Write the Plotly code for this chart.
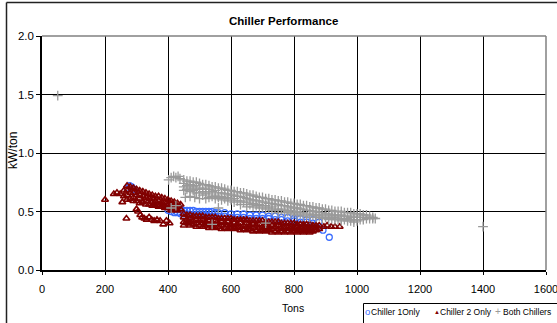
import plotly.graph_objects as go

# ---------------- data ----------------
# Chiller 1 Only (blue open circles): x columns and the y values seen in each column
c1_tons_cols = [270, 278, 285, 290, 296, 400, 410, 420, 430, 440, 450, 460, 470, 480, 490, 500, 510, 520,
                530, 540, 550, 560, 580, 600, 620, 640, 660, 680, 700, 720, 740, 760, 780, 800,
                820, 840, 860, 880, 892, 912]
c1_kw_cols = [[0.70], [0.72], [0.71], [0.69], [0.67], [0.54, 0.51], [0.53, 0.50], [0.53, 0.49], [0.52, 0.49],
              [0.52, 0.48], [0.51, 0.48], [0.51, 0.48], [0.51, 0.47], [0.51, 0.47], [0.50, 0.47], [0.50, 0.47],
              [0.50, 0.47], [0.50, 0.47], [0.50, 0.46], [0.50, 0.46], [0.49, 0.46], [0.49, 0.46], [0.49, 0.46],
              [0.48, 0.45], [0.48, 0.45], [0.48, 0.45], [0.47, 0.44], [0.47, 0.44], [0.47, 0.44], [0.46, 0.44],
              [0.46, 0.43], [0.45, 0.43], [0.45, 0.42], [0.44, 0.42], [0.44, 0.41], [0.43, 0.41], [0.43, 0.40],
              [0.41], [0.34], [0.28]]

# Chiller 2 Only (dark red triangles)
c2_tons_cols = [200, 228, 238, 248, 255, 268,
                260, 270, 280, 290, 300, 310, 320, 330, 340, 350, 360, 370, 380, 390, 400, 410, 420, 430, 440,
                300, 305, 312, 318, 325, 332, 340, 348, 356, 365, 375, 385, 395, 405,
                450, 460, 470, 480, 490, 500, 510, 520, 530, 540, 550, 560, 570, 580, 590, 600, 610, 620,
                630, 640, 650, 660, 670, 680, 690, 700, 710, 720, 730, 740, 750, 760, 770, 780, 790, 800,
                810, 820, 830, 840, 850, 860, 870, 880, 895, 905, 918, 930, 945]
c2_kw_cols = [[0.60], [0.65], [0.66], [0.65], [0.58], [0.44],
              [0.68, 0.63], [0.72, 0.68, 0.64, 0.60], [0.71, 0.66, 0.61], [0.70, 0.66, 0.62, 0.59],
              [0.69, 0.64, 0.59], [0.68, 0.64, 0.61, 0.57], [0.67, 0.63, 0.58], [0.66, 0.62, 0.59, 0.56],
              [0.65, 0.61, 0.56], [0.64, 0.61, 0.58, 0.55], [0.63, 0.59, 0.55], [0.63, 0.59, 0.56, 0.54],
              [0.62, 0.58, 0.54], [0.61, 0.58, 0.55, 0.53], [0.60, 0.56, 0.53], [0.59, 0.56, 0.53, 0.51],
              [0.58, 0.55, 0.52], [0.57, 0.54, 0.51], [0.56, 0.52],
              [0.52], [0.50], [0.47], [0.45], [0.44], [0.43], [0.45], [0.43], [0.42], [0.43], [0.42], [0.39],
              [0.42], [0.40],
              [0.48, 0.45, 0.41, 0.38], [0.47, 0.43, 0.40], [0.47, 0.44, 0.41, 0.38], [0.46, 0.42, 0.39],
              [0.46, 0.43, 0.40, 0.37], [0.46, 0.42, 0.38], [0.46, 0.43, 0.40, 0.37], [0.45, 0.41, 0.38],
              [0.45, 0.42, 0.39, 0.36], [0.45, 0.41, 0.37], [0.45, 0.42, 0.39, 0.36], [0.44, 0.40, 0.37],
              [0.44, 0.41, 0.38, 0.35], [0.44, 0.40, 0.36], [0.44, 0.41, 0.38, 0.35], [0.44, 0.39, 0.36],
              [0.43, 0.40, 0.37, 0.35], [0.43, 0.39, 0.36], [0.43, 0.40, 0.37, 0.34], [0.43, 0.38, 0.35],
              [0.43, 0.40, 0.37, 0.34], [0.42, 0.38, 0.35], [0.42, 0.39, 0.36, 0.33], [0.42, 0.38, 0.34],
              [0.42, 0.39, 0.36, 0.33], [0.42, 0.37, 0.34], [0.41, 0.38, 0.35, 0.33], [0.41, 0.37, 0.34],
              [0.41, 0.38, 0.35, 0.32], [0.41, 0.37, 0.33], [0.41, 0.38, 0.35, 0.32], [0.40, 0.36, 0.33],
              [0.40, 0.37, 0.35, 0.32], [0.40, 0.36, 0.33], [0.40, 0.37, 0.35, 0.32], [0.40, 0.36, 0.33],
              [0.39, 0.37, 0.34, 0.32], [0.39, 0.36, 0.33], [0.39, 0.37, 0.34, 0.32], [0.39, 0.36, 0.33],
              [0.39, 0.36, 0.34, 0.32], [0.38, 0.36, 0.33], [0.38, 0.36, 0.34], [0.38, 0.35],
              [0.37], [0.38], [0.37], [0.37], [0.37]]

# Both Chillers (grey plus)
both_tons_cols = [50, 1400, 402, 410, 418, 425, 432, 438, 455, 470, 485, 500, 520, 410, 425, 540, 560, 710,
                  450, 460, 470, 480, 490, 500, 510, 520, 530, 540, 550, 560, 570, 580, 590, 600, 610, 620,
                  630, 640, 650, 660, 670, 680, 690, 700, 710, 720, 730, 740, 750, 760, 770, 780, 790, 800,
                  810, 820, 830, 840, 850, 860, 870, 880, 890, 900, 910, 920, 930, 940, 950, 960, 970, 980,
                  990, 1000, 1010, 1020, 1030, 1040, 1050, 1058]
both_kw_cols = [[1.49], [0.37], [0.77], [0.79], [0.80], [0.79], [0.80], [0.78], [0.62], [0.63], [0.62], [0.61],
                [0.61], [0.53], [0.55], [0.39], [0.53], [0.40],
                [0.77, 0.74, 0.71, 0.68], [0.76, 0.72, 0.69], [0.76, 0.73, 0.70, 0.67], [0.75, 0.71, 0.68],
                [0.75, 0.72, 0.69, 0.66], [0.74, 0.70, 0.66], [0.73, 0.70, 0.67, 0.64], [0.73, 0.69, 0.65],
                [0.72, 0.69, 0.66, 0.62], [0.71, 0.67, 0.63], [0.71, 0.68, 0.64, 0.61], [0.70, 0.66, 0.62],
                [0.70, 0.66, 0.63, 0.60], [0.69, 0.65, 0.61], [0.68, 0.65, 0.62, 0.59], [0.68, 0.64, 0.60],
                [0.67, 0.64, 0.61, 0.58], [0.67, 0.63, 0.59], [0.66, 0.63, 0.59, 0.56], [0.66, 0.62, 0.58],
                [0.65, 0.61, 0.58, 0.54], [0.64, 0.60, 0.56], [0.64, 0.60, 0.57, 0.54], [0.63, 0.59, 0.55],
                [0.62, 0.59, 0.56, 0.53], [0.62, 0.58, 0.54], [0.61, 0.58, 0.55, 0.52], [0.61, 0.57, 0.53],
                [0.60, 0.57, 0.54, 0.51], [0.60, 0.56, 0.52], [0.59, 0.56, 0.52, 0.49], [0.59, 0.55, 0.51],
                [0.58, 0.55, 0.52, 0.49], [0.58, 0.54, 0.50], [0.57, 0.54, 0.51, 0.48], [0.57, 0.53, 0.49],
                [0.56, 0.53, 0.50, 0.47], [0.56, 0.52, 0.48], [0.55, 0.52, 0.49, 0.46], [0.55, 0.51, 0.47],
                [0.54, 0.51, 0.48, 0.45], [0.54, 0.50, 0.47], [0.53, 0.50, 0.47, 0.45], [0.53, 0.49, 0.46],
                [0.52, 0.49, 0.47, 0.44], [0.52, 0.48, 0.45], [0.51, 0.48, 0.46, 0.43], [0.51, 0.47, 0.44],
                [0.50, 0.47, 0.45, 0.43], [0.50, 0.46, 0.43], [0.50, 0.47, 0.44, 0.42], [0.49, 0.46, 0.43],
                [0.49, 0.46, 0.44, 0.42], [0.49, 0.45, 0.42], [0.48, 0.46, 0.43, 0.41], [0.48, 0.45, 0.42],
                [0.48, 0.45, 0.43], [0.47, 0.45, 0.43], [0.47, 0.44], [0.46, 0.44], [0.45, 0.44], [0.44]]

x_ticks = [0, 200, 400, 600, 800, 1000, 1200, 1400, 1600]
y_ticks = [0.0, 0.5, 1.0, 1.5, 2.0]
series_names = ["Chiller 1Only", "Chiller 2 Only", "Both Chillers"]
title_text = "Chiller Performance"
x_title = "Tons"
y_title = "kW/ton"


def flatten(xcols, ycols):
    xs, ys = [], []
    for x, yl in zip(xcols, ycols):
        for y in yl:
            xs.append(x)
            ys.append(y)
    return xs, ys


c1_x, c1_y = flatten(c1_tons_cols, c1_kw_cols)
c2_x, c2_y = flatten(c2_tons_cols, c2_kw_cols)
b_x, b_y = flatten(both_tons_cols, both_kw_cols)

BLUE = "#3a6cff"
RED = "#800000"
GREY = "#9a9a9a"
FONT = "Liberation Sans, Arial, sans-serif"

fig = go.Figure()
fig.add_trace(go.Scatter(x=c1_x, y=c1_y, mode="markers", name=series_names[0], showlegend=False,
                         marker=dict(symbol="circle-open", size=6, color=BLUE, line=dict(width=1.3, color=BLUE))))
fig.add_trace(go.Scatter(x=c2_x, y=c2_y, mode="markers", name=series_names[1], showlegend=False,
                         marker=dict(symbol="triangle-up-open", size=6, color=RED, line=dict(width=1.6, color=RED))))
fig.add_trace(go.Scatter(x=b_x, y=b_y, mode="markers", name=series_names[2], showlegend=False,
                         marker=dict(symbol="cross-thin", size=7, color=GREY, line=dict(width=1.3, color=GREY))))

W, H = 557, 323
L, R, T, B = 42, 546, 36, 270


def px(xp):
    return (xp - L) / (R - L)


def py(yp):
    return (B - yp) / (B - T)


shapes = [
    # outer chart frame (left and top visible)
    dict(type="line", xref="paper", yref="paper", x0=px(6.5), x1=px(6.5), y0=py(2.5), y1=py(340),
         line=dict(color="#222222", width=1.5)),
    dict(type="line", xref="paper", yref="paper", x0=px(6.5), x1=px(580), y0=py(2.5), y1=py(2.5),
         line=dict(color="#222222", width=1.5)),
    # grey plot area border (top and right)
    dict(type="line", xref="paper", yref="paper", x0=0, x1=1, y0=1, y1=1, line=dict(color="#808080", width=1.5)),
    dict(type="line", xref="paper", yref="paper", x0=1, x1=1, y0=0, y1=1, line=dict(color="#808080", width=1.5)),
    # legend box
    dict(type="rect", xref="paper", yref="paper", x0=px(363.5), x1=px(600), y0=py(303.5), y1=py(340),
         line=dict(color="black", width=1), fillcolor="white"),
]


def ann(text, x, y, size, anchor="left", angle=0, color="black"):
    return dict(text=text, xref="paper", yref="paper", x=px(x), y=py(y), textangle=angle,
                xanchor=anchor, yanchor="middle", showarrow=False, borderpad=0,
                font=dict(family=FONT, size=size, color=color))


annotations = [
    ann("<b>" + title_text + "</b>", 283, 21, 11.5, "center"),
    ann(x_title, 293, 308, 10.5, "center"),
    ann(y_title, 13, 151, 12, "center", angle=-90),
    # legend entries
    ann("o", 367, 311.5, 9.5, "center", color=BLUE),
    ann(series_names[0], 370, 312, 8.5),
    ann("▲", 436.5, 312, 6, "center", color=RED),
    ann(series_names[1], 439, 312, 8.5),
    ann("+", 497.5, 311.5, 10, "center", color=GREY),
    ann(series_names[2], 501.5, 312, 8.5),
]

fig.update_layout(
    width=W, height=H,
    margin=dict(l=L, r=W - R, t=T, b=H - B, pad=0, autoexpand=False),
    paper_bgcolor="white", plot_bgcolor="white",
    font=dict(family=FONT, size=11.5, color="black"),
    shapes=shapes, annotations=annotations,
    showlegend=False,
)
fig.update_xaxes(range=[0, 1600], tickvals=x_ticks, ticktext=[str(v) for v in x_ticks],
                 showgrid=True, gridcolor="black", gridwidth=1, zeroline=False,
                 showline=True, linecolor="black", linewidth=1.5, automargin=False,
                 ticks="outside", ticklen=3, tickcolor="black", ticklabelstandoff=5,
                 ticklabeloverflow="allow",
                 tickfont=dict(family=FONT, size=11, color="black"))
fig.update_yaxes(range=[0, 2.0], tickvals=y_ticks, ticktext=["%.1f" % v for v in y_ticks],
                 showgrid=True, gridcolor="black", gridwidth=1, zeroline=False,
                 showline=True, linecolor="black", linewidth=1.5, automargin=False,
                 ticks="outside", ticklen=4, tickcolor="black", ticklabeloverflow="allow",
                 tickfont=dict(family=FONT, size=11.5, color="black"))

fig.write_html("out.html")
